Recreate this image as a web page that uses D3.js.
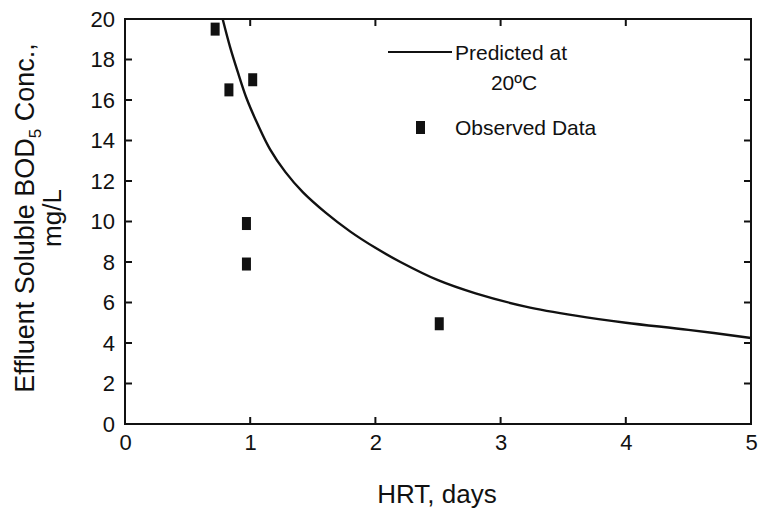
<!DOCTYPE html>
<meta charset="utf-8">
<style>
  body { margin: 0; background: #fff; }
  text { font-family: "Liberation Sans", Arial, sans-serif; fill: #111; }
</style>
<body>
<script src="https://d3js.org/d3.v7.min.js"></script>
<script>
  // predicted curve at 20 C
  const predX = [0.78, 0.84, 0.90, 0.97, 1.06, 1.16, 1.28, 1.42, 1.60, 1.80, 2.0, 2.2, 2.5, 2.8, 3.2, 3.6, 4.0, 4.5, 5.0];
  const predY = [20, 18.6, 17.4, 16.1, 14.8, 13.55, 12.45, 11.45, 10.45, 9.5, 8.7, 8.0, 7.1, 6.45, 5.8, 5.35, 5.0, 4.65, 4.25];

  // observed data
  const obsX = [0.72, 0.83, 1.02, 0.97, 0.97, 2.51];
  const obsY = [19.5, 16.5, 17.0, 9.9, 7.9, 4.95];

  const xTicks = [0, 1, 2, 3, 4, 5];
  const yTicks = [0, 2, 4, 6, 8, 10, 12, 14, 16, 18, 20];

  const width = 759, height = 512;
  const margin = {left: 125, right: 8, top: 19, bottom: 88};

  const svg = d3.select("body").append("svg")
    .attr("width", width).attr("height", height);

  const x = d3.scaleLinear().domain([0, 5]).range([margin.left, width - margin.right]);
  const y = d3.scaleLinear().domain([0, 20]).range([height - margin.bottom, margin.top]);

  // tick labels through the axes (tick marks drawn separately)
  svg.append("g").attr("class", "ax").attr("transform", `translate(0,${y(0)})`)
    .call(d3.axisBottom(x).tickValues(xTicks).tickSize(0).tickPadding(10).tickFormat(d3.format("d")));
  svg.append("g").attr("class", "ax").attr("transform", `translate(${x(0)},0)`)
    .call(d3.axisLeft(y).tickValues(yTicks).tickSize(0).tickPadding(10).tickFormat(d3.format("d")));
  svg.selectAll(".ax .domain").remove();
  svg.selectAll(".ax .tick text").attr("font-size", 22).attr("fill", "#111");

  // frame
  svg.append("rect")
    .attr("x", x(0)).attr("y", y(20))
    .attr("width", x(5) - x(0)).attr("height", y(0) - y(20))
    .attr("fill", "none").attr("stroke", "#111").attr("stroke-width", 2);

  // inward ticks on all four sides
  const tk = 7;
  const tg = svg.append("g").attr("stroke", "#111").attr("stroke-width", 2);
  tg.selectAll(".xb").data(xTicks).join("line").attr("class", "xb")
    .attr("x1", d => x(d)).attr("x2", d => x(d)).attr("y1", y(0)).attr("y2", y(0) - tk);
  tg.selectAll(".xt").data(xTicks).join("line").attr("class", "xt")
    .attr("x1", d => x(d)).attr("x2", d => x(d)).attr("y1", y(20)).attr("y2", y(20) + tk);
  tg.selectAll(".yl").data(yTicks).join("line").attr("class", "yl")
    .attr("x1", x(0)).attr("x2", x(0) + tk).attr("y1", d => y(d)).attr("y2", d => y(d));
  tg.selectAll(".yr").data(yTicks).join("line").attr("class", "yr")
    .attr("x1", x(5)).attr("x2", x(5) - tk).attr("y1", d => y(d)).attr("y2", d => y(d));

  // predicted line
  const line = d3.line().x(d => x(d[0])).y(d => y(d[1])).curve(d3.curveCatmullRom);
  svg.append("path")
    .datum(predX.map((v, i) => [v, predY[i]]))
    .attr("d", line)
    .attr("fill", "none").attr("stroke", "#111").attr("stroke-width", 2.4);

  // observed squares
  const mw = 9, mh = 13;
  svg.append("g").selectAll("rect")
    .data(obsX.map((v, i) => [v, obsY[i]]))
    .join("rect")
    .attr("x", d => x(d[0]) - mw / 2)
    .attr("y", d => y(d[1]) - mh / 2)
    .attr("width", mw).attr("height", mh)
    .attr("fill", "#111");

  // legend
  const lg = svg.append("g");
  lg.append("line").attr("x1", 388).attr("x2", 452).attr("y1", 52).attr("y2", 52)
    .attr("stroke", "#111").attr("stroke-width", 2);
  lg.append("text").attr("x", 455).attr("y", 60).attr("font-size", 21).text("Predicted at");
  lg.append("text").attr("x", 514).attr("y", 90).attr("font-size", 21).attr("text-anchor", "middle")
    .text("20ºC");
  lg.append("rect").attr("x", 416).attr("y", 121).attr("width", 9).attr("height", 13).attr("fill", "#111");
  lg.append("text").attr("x", 455).attr("y", 135).attr("font-size", 21).text("Observed Data");

  // axis titles
  svg.append("text").attr("x", 437).attr("y", 503).attr("text-anchor", "middle")
    .attr("font-size", 26).text("HRT, days");

  const yl = svg.append("text").attr("transform", "translate(34,218) rotate(-90)")
    .attr("text-anchor", "middle").attr("font-size", 27);
  yl.append("tspan").text("Effluent Soluble BOD");
  yl.append("tspan").attr("font-size", 17).attr("dy", 7).text("5");
  yl.append("tspan").attr("dy", -7).text(" Conc.,");
  svg.append("text").attr("transform", "translate(61,218) rotate(-90)")
    .attr("text-anchor", "middle").attr("font-size", 26).text("mg/L");
</script>
</body>
